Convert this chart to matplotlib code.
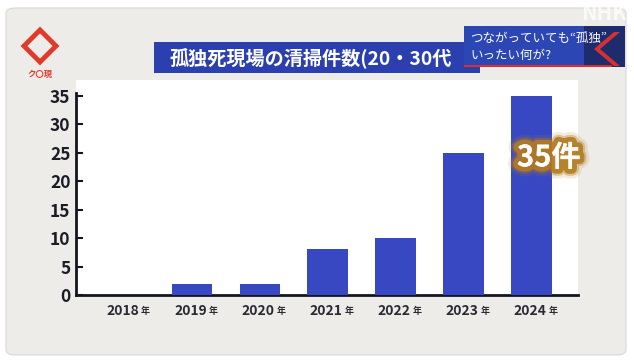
import matplotlib.pyplot as plt
import matplotlib.patheffects as pe
from matplotlib.patches import FancyBboxPatch, Rectangle, Polygon

plt.rcParams['font.family'] = ['Noto Sans CJK JP', 'DejaVu Sans']

years = ["2018", "2019", "2020", "2021", "2022", "2023", "2024"]
counts = [0, 2, 2, 8, 10, 25, 35]
yticks = [0, 5, 10, 15, 20, 25, 30, 35]
title = "孤独死現場の清掃件数(20・30代"
badge = "35件"

W, H = 634, 363
fig = plt.figure(figsize=(W / 100, H / 100), dpi=100)
fig.patch.set_facecolor("white")


def px(x, y):
    # pixel coords (top-left origin) -> figure fraction
    return x / W, 1 - y / H


def box(x0, y0, x1, y1, color, z):
    fig.patches.append(Rectangle(px(x0, y1), (x1 - x0) / W, (y1 - y0) / H,
                                 transform=fig.transFigure, facecolor=color,
                                 edgecolor="none", zorder=z))


# grey textured frame
frame = FancyBboxPatch(px(6, 355), (626 - 6) / W, (355 - 8) / H,
                       boxstyle="round,pad=0,rounding_size=0.015",
                       transform=fig.transFigure, facecolor="#edece8",
                       edgecolor="#d8d8d8", lw=0.8, zorder=-2)
fig.patches.append(frame)

# white panel behind plot
box(76, 80, 578, 295, "white", -1)

ax = fig.add_axes([76 / W, 1 - 295 / H, (578 - 76) / W, (295 - 93) / H])
ax.set_zorder(1)
ax.set_facecolor("white")
x = list(range(len(years)))
ax.bar(x, counts, width=0.6, color="#3848c2", zorder=3)
ax.set_xlim(-0.706, 6.68)
ax.set_ylim(0, 35.5)
ax.set_yticks(yticks)
ax.set_yticklabels([str(v) for v in yticks], fontsize=12.5, fontweight="bold",
                   color="#1c1c28")
ax.set_xticks(x)
ax.set_xticklabels([])
for s in ["top", "right"]:
    ax.spines[s].set_visible(False)
for s in ["left", "bottom"]:
    ax.spines[s].set_linewidth(2)
    ax.spines[s].set_color("#151522")
ax.tick_params(axis="y", direction="in", length=5, width=1.5,
               color="#151522", pad=4)
ax.tick_params(axis="x", length=0)

for i, yr in enumerate(years):
    ax.text(i + 0.22, -1.5, yr, ha="right", va="top", fontsize=10,
            fontweight="bold", color="#2a2a33", clip_on=False)
    ax.text(i + 0.25, -2.0, "年", ha="left", va="top", fontsize=6.5,
            fontweight="bold", color="#2a2a33", clip_on=False)

glow = [pe.withStroke(linewidth=w, foreground="#b47a20", alpha=a)
        for w, a in [(14, 0.15), (10, 0.35), (7, 0.9)]]
ax.text(6.25, 24.2, badge, ha="center", va="center", fontsize=21,
        fontweight="bold", color="white", zorder=5,
        path_effects=glow + [pe.Normal()])

# title banner
box(154, 42, 480, 73, "#2b3fae", 2)
fig.text(*px(170, 58), title, ha="left", va="center", fontsize=13.8,
         fontweight="bold", color="white", zorder=3)

# corner caption box
box(464, 26, 625, 67, "#2c47b3", 4)
box(584, 26, 625, 67, "#1e2c6e", 4)
box(464, 65, 612, 67, "#d83030", 5)
fig.patches.append(Polygon([px(620, 32), px(600, 49), px(620, 66), px(614, 66),
                            px(594, 49), px(614, 32)], closed=True,
                           transform=fig.transFigure, facecolor="#d83030",
                           edgecolor="none", zorder=5))
fig.text(*px(470, 38), "つながっていても\u201c孤独\u201d", ha="left", va="center",
         fontsize=9, color="white", zorder=6)
fig.text(*px(470, 55), "いったい何が?", ha="left", va="center",
         fontsize=9, color="white", zorder=6)
fig.text(*px(627, 14), "NHK", ha="right", va="center", fontsize=15,
         fontweight="bold", fontstyle="italic", color="white", alpha=0.75,
         zorder=7)

# logo
fig.patches.append(Polygon([px(40, 30), px(56, 46), px(40, 62), px(24, 46)],
                           closed=True, transform=fig.transFigure,
                           facecolor="none", edgecolor="#e03a2a", lw=3.5))
fig.text(*px(40, 74), "ク〇現", ha="center", va="center", fontsize=6,
         fontweight="bold", color="#e03a2a")

fig.savefig("out.png", dpi=100)
